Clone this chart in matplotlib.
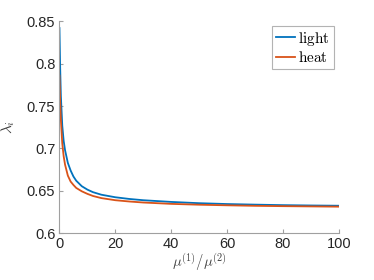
import matplotlib
matplotlib.use("Agg")
import matplotlib.pyplot as plt

plt.rcParams['mathtext.fontset'] = 'cm'
plt.rcParams['font.family'] = ['Liberation Sans', 'DejaVu Sans']

x = [0, 0.25, 0.5, 1, 1.5, 2, 3, 4, 5, 6, 8, 10, 12, 15, 20, 25, 30, 40, 50, 60, 70, 80, 90, 100]
light = [0.842, 0.795, 0.762, 0.727, 0.709, 0.698, 0.683, 0.674, 0.667, 0.662, 0.6555, 0.6515,
         0.6485, 0.6455, 0.6425, 0.6405, 0.639, 0.637, 0.6355, 0.6345, 0.6338, 0.6332, 0.6328, 0.6325]
heat = [0.786, 0.755, 0.734, 0.706, 0.691, 0.681, 0.668, 0.661, 0.657, 0.6535, 0.6495, 0.6465,
        0.644, 0.6415, 0.639, 0.6375, 0.6363, 0.6347, 0.6337, 0.633, 0.6324, 0.632, 0.6317, 0.6314]
xticks = [0, 20, 40, 60, 80, 100]
yticks = [0.6, 0.65, 0.7, 0.75, 0.8, 0.85]
yticklabels = ['0.6', '0.65', '0.7', '0.75', '0.8', '0.85']

fig = plt.figure(figsize=(3.74, 2.80), dpi=100)
ax = fig.add_axes([0.159, 0.1668, 0.7466, 0.7572])
ax.plot(x, light, color='#0072BD', lw=1.3, label=r'$\mathrm{light}$')
ax.plot(x, heat, color='#D95319', lw=1.3, label=r'$\mathrm{heat}$')
ax.set_xlim(0, 100)
ax.set_ylim(0.6, 0.85)
ax.set_xticks(xticks)
ax.set_yticks(yticks)
ax.set_yticklabels(yticklabels)
for s in ['top', 'right']:
    ax.spines[s].set_visible(False)
for s in ['left', 'bottom']:
    ax.spines[s].set_color('#a0a0a0')
    ax.spines[s].set_linewidth(0.8)
ax.tick_params(direction='in', length=3, width=0.8, color='#a0a0a0',
               labelcolor='#262626', labelsize=10.5, pad=3)
ax.set_xlabel(r'$\mu^{(1)}/\mu^{(2)}$', fontsize=10.5, color='#404040', labelpad=0)
ax.set_ylabel(r'$\lambda_i$', fontsize=11, color='#404040', labelpad=7)
leg = ax.legend(loc='upper right', bbox_to_anchor=(0.982, 0.978), fontsize=11,
                frameon=True, fancybox=False, handlelength=1.25, handletextpad=0.2,
                borderpad=0.25, labelspacing=0.15, borderaxespad=0)
leg.get_frame().set_edgecolor('#a0a0a0')
leg.get_frame().set_linewidth(0.8)
fig.savefig('out.png', dpi=100)
